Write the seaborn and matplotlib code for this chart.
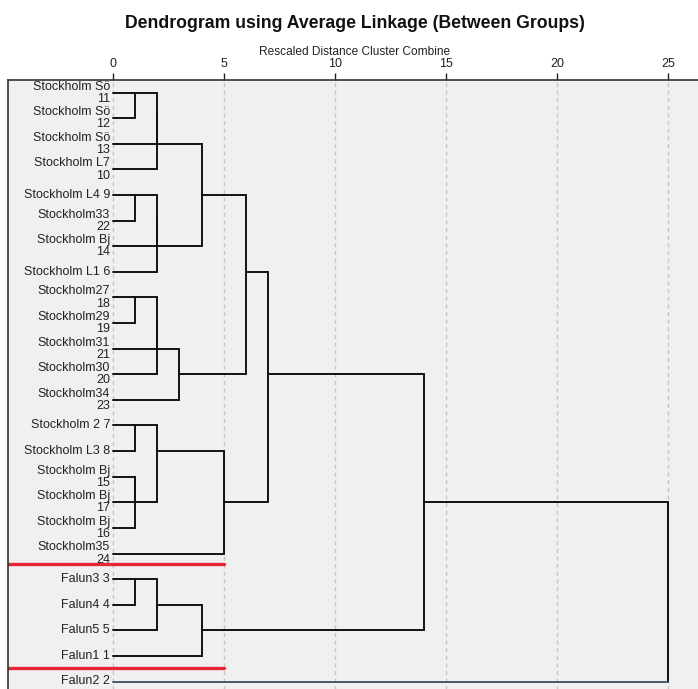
import numpy as np
import pandas as pd
import matplotlib
matplotlib.use("Agg")
import matplotlib.pyplot as plt
import seaborn as sns

# ---------------- data ----------------
leaf_labels = [
    "Stockholm Sö\n11", "Stockholm Sö\n12", "Stockholm Sö\n13", "Stockholm L7\n10",
    "Stockholm L4 9", "Stockholm33\n22", "Stockholm Bj\n14", "Stockholm L1 6",
    "Stockholm27\n18", "Stockholm29\n19", "Stockholm31\n21", "Stockholm30\n20",
    "Stockholm34\n23", "Stockholm 2 7", "Stockholm L3 8", "Stockholm Bj\n15",
    "Stockholm Bj\n17", "Stockholm Bj\n16", "Stockholm35\n24", "Falun3 3",
    "Falun4 4", "Falun5 5", "Falun1 1", "Falun2 2",
]
# agglomeration schedule (leaves 0..23 in display order, merge k creates id 24+k)
merge_left = [0, 24, 25, 4, 27, 28, 26, 8, 31, 32, 33, 30, 13, 15, 37, 36, 39, 35, 19, 42, 43, 41, 45]
merge_right = [1, 2, 3, 5, 6, 7, 29, 9, 10, 11, 12, 34, 14, 16, 17, 38, 18, 40, 20, 21, 22, 44, 23]
merge_height = [1, 2, 2, 1, 2, 2, 4, 1, 2, 2, 3, 6, 1, 1, 1, 2, 5, 7, 1, 2, 4, 14, 25]
x_ticks = [0, 5, 10, 15, 20, 25]
cut_rows = [18.42, 22.48]   # red marker lines (between leaf rows)
cut_end = 5

# ---------------- layout of the tree ----------------
n = len(leaf_labels)
row = {i: i for i in range(n)}
hgt = {i: 0.0 for i in range(n)}
segs = []
sid = 0
for k, (a, b, h) in enumerate(zip(merge_left, merge_right, merge_height)):
    new = n + k
    for c in (a, b):
        kind = "last" if c == n - 1 else "tree"
        segs += [(sid, hgt[c], row[c], kind), (sid, h, row[c], kind)]
        sid += 1
    segs += [(sid, h, row[a], "tree"), (sid, h, row[b], "tree")]
    sid += 1
    row[new] = (row[a] + row[b]) // 2
    hgt[new] = h
seg_df = pd.DataFrame(segs, columns=["seg", "x", "y", "kind"])

# ---------------- figure ----------------
sns.set_style("white")
plt.rcParams["font.family"] = ["Liberation Sans", "DejaVu Sans"]

W, H = 698, 689
fig = plt.figure(figsize=(W / 100, H / 100), dpi=100)
fig.patch.set_facecolor("white")

px_unit = (668.3 - 112.7) / 25.0
x_left_px, x_right_px = 8.3, 700.0
top_px, bot_px = 80.0, 692.0
ax = fig.add_axes([x_left_px / W, 1 - bot_px / H,
                   (x_right_px - x_left_px) / W, (bot_px - top_px) / H])
ax.set_facecolor("#f0f0f0")

xmin = (x_left_px - 112.7) / px_unit
xmax = (x_right_px - 112.7) / px_unit
row0, drow = 92.7, 25.6
ax.set_xlim(xmin, xmax)
ax.set_ylim((bot_px - row0) / drow, (top_px - row0) / drow)

# grid
ax.set_xticks(x_ticks)
ax.set_yticks([])
ax.grid(axis="x", color="#c6c6c6", linestyle=(0, (3, 2.5)), linewidth=1.0)
ax.set_axisbelow(True)

# tree
sns.lineplot(data=seg_df, x="x", y="y", units="seg", estimator=None, sort=False,
             hue="kind", palette={"tree": "#111111", "last": "#4c5966"},
             linewidth=1.4, legend=False, ax=ax)

# red cut lines
cut_df = pd.DataFrame({
    "seg": np.repeat(np.arange(len(cut_rows)), 2),
    "x": np.tile([xmin, cut_end], len(cut_rows)),
    "y": np.repeat(cut_rows, 2),
})
sns.lineplot(data=cut_df, x="x", y="y", units="seg", estimator=None, sort=False,
             color="#e62836", linewidth=2.4, legend=False, ax=ax)

# leaf labels
for i, lab in enumerate(leaf_labels):
    ax.text(-0.12, i, lab, ha="right", va="center", fontsize=9,
            linespacing=1.03, color="#222222", multialignment="right")

# axes styling
ax.xaxis.tick_top()
ax.tick_params(axis="x", direction="out", length=5.3, width=1.0, pad=2.0,
               labelsize=9, colors="#222222", top=True, bottom=False,
               labeltop=True, labelbottom=False)
ax.set_xlabel("")
ax.set_ylabel("")
for s in ["top", "left"]:
    ax.spines[s].set_color("#333333")
    ax.spines[s].set_linewidth(1.2)
for s in ["right", "bottom"]:
    ax.spines[s].set_visible(False)

fig.text(355 / W, 1 - 23.3 / H, "Dendrogram using Average Linkage (Between Groups)",
         ha="center", va="center", fontsize=12.7, fontweight="bold", color="#111111")
fig.text(355 / W, 1 - 51.7 / H, "Rescaled Distance Cluster Combine",
         ha="center", va="center", fontsize=8.6, color="#222222")

fig.savefig("out.png", dpi=100, facecolor="white")
